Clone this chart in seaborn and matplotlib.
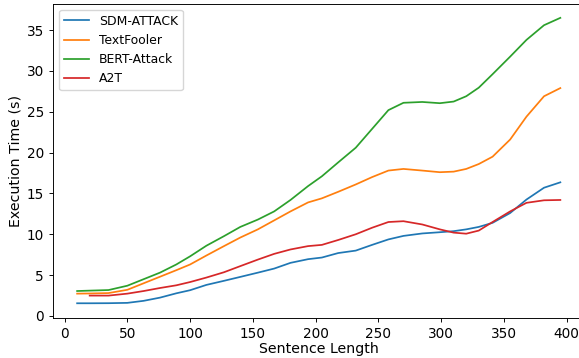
import matplotlib
matplotlib.use("Agg")
import matplotlib.pyplot as plt
import seaborn as sns
import pandas as pd

series_names = ["SDM-ATTACK", "TextFooler", "BERT-Attack", "A2T"]

x_main = [10, 20, 35, 50, 63, 76, 89, 100, 113, 127, 140, 154, 167, 180, 194, 205,
          218, 232, 245, 258, 270, 285, 299, 310, 320, 330, 341, 355, 368, 382, 395]

sdm_attack = [1.55, 1.55, 1.56, 1.6, 1.85, 2.24, 2.77, 3.15, 3.8, 4.3, 4.78, 5.3, 5.8, 6.5, 6.95, 7.15,
              7.7, 8.0, 8.7, 9.37, 9.8, 10.1, 10.25, 10.38, 10.6, 10.9, 11.4, 12.6, 14.25, 15.7, 16.36]
textfooler = [2.73, 2.75, 2.8, 3.2, 4.0, 4.8, 5.6, 6.3, 7.4, 8.55, 9.6, 10.6, 11.7, 12.8, 13.9, 14.4,
              15.2, 16.1, 17.0, 17.8, 18.0, 17.8, 17.6, 17.67, 18.0, 18.6, 19.5, 21.6, 24.4, 26.9, 27.9]
bert_attack = [3.05, 3.1, 3.17, 3.7, 4.5, 5.3, 6.3, 7.3, 8.6, 9.77, 10.9, 11.8, 12.8, 14.2, 15.9, 17.1,
               18.8, 20.6, 22.9, 25.2, 26.1, 26.2, 26.05, 26.25, 26.9, 27.95, 29.6, 31.75, 33.8, 35.6, 36.5]

x_a2t = [20, 35, 50, 63, 76, 89, 100, 113, 127, 140, 154, 167, 180, 194, 205,
         218, 232, 245, 258, 270, 285, 299, 310, 320, 330, 341, 355, 368, 382, 395]
a2t = [2.49, 2.49, 2.73, 3.05, 3.42, 3.75, 4.15, 4.7, 5.35, 6.1, 6.9, 7.6, 8.14, 8.55, 8.7,
       9.3, 10.0, 10.8, 11.5, 11.6, 11.2, 10.6, 10.2, 10.07, 10.45, 11.5, 12.8, 13.85, 14.16, 14.2]

frames = []
for name, xs, ys in [(series_names[0], x_main, sdm_attack),
                     (series_names[1], x_main, textfooler),
                     (series_names[2], x_main, bert_attack),
                     (series_names[3], x_a2t, a2t)]:
    frames.append(pd.DataFrame({"Sentence Length": xs, "Execution Time (s)": ys, "Method": name}))
df = pd.concat(frames, ignore_index=True)

fig = plt.figure(figsize=(5.79, 3.58), dpi=100)
ax = fig.add_axes([0.0915, 0.113, 0.918, 0.877])
sns.lineplot(data=df, x="Sentence Length", y="Execution Time (s)", hue="Method",
             hue_order=series_names, palette=sns.color_palette("tab10", 4),
             linewidth=1.25, ax=ax, sort=True)

ax.set_xlim(-9.25, 414.25)
ax.set_xticks([0, 50, 100, 150, 200, 250, 300, 350, 400])
ax.set_yticks([0, 5, 10, 15, 20, 25, 30, 35])
ax.tick_params(labelsize=9.8, width=0.67, length=3)
ax.set_xlabel("Sentence Length", fontsize=10.2, labelpad=1)
ax.set_ylabel("Execution Time (s)", fontsize=10.2, labelpad=3)
for s in ax.spines.values():
    s.set_linewidth(0.67)
leg = ax.legend(loc="upper left", fontsize=8.9, title=None)
fig.savefig("out.png", dpi=100)
